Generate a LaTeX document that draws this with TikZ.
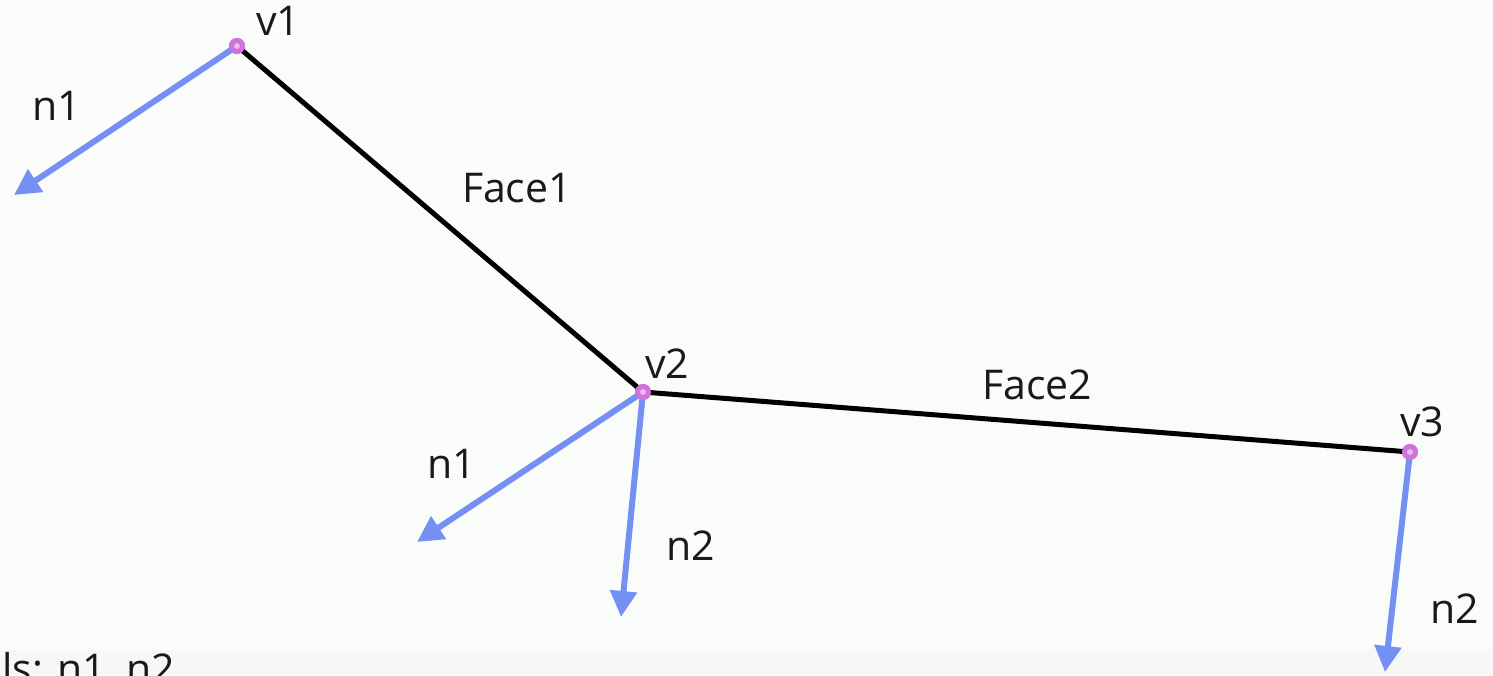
\documentclass[tikz,border=0pt]{standalone}
\usepackage{fontspec}
\setmainfont{Open Sans}
\usetikzlibrary{arrows.meta}
\definecolor{bg}{HTML}{FAFCFA}
\definecolor{nblue}{HTML}{7390F2}
\definecolor{vpink}{HTML}{CF72D9}
\definecolor{vlight}{HTML}{F0B8F0}
\tikzset{
  vert/.style={circle, fill=vpink, inner sep=0pt, minimum size=8pt},
  normal/.style={draw=nblue, line width=3pt, -{Triangle[length=13pt,width=13pt]}, shorten <=1pt},
  face/.style={draw=black, line width=2.5pt},
  lbl/.style={font=\fontsize{20.5}{24}\selectfont, inner sep=0pt, text=black!90}
}
\begin{document}
\begin{tikzpicture}[x=0.5pt,y=-0.5pt]
\clip (0,0) rectangle (1493,675);
\fill[bg] (0,0) rectangle (1493,675);
\fill[black!3] (0,650) rectangle (1493,675);
% vertices
\node[vert] (v1) at (237,46) {};
\node[vert] (v2) at (643,392) {};
\node[vert] (v3) at (1410,452) {};
% faces
\draw[face] (v1.center) -- (v2.center) -- (v3.center);
% normal tips
\coordinate (a1) at (14,195);
\coordinate (a2) at (417,542);
\coordinate (a3) at (621,617);
\coordinate (a4) at (1385,672);
\draw[normal] (v1.center) -- (a1);
\draw[normal] (v2.center) -- (a2);
\draw[normal] (v2.center) -- (a3);
\draw[normal] (v3.center) -- (a4);
% vertex markers on top
\foreach \v in {v1,v2,v3}{
  \node[vert] at (\v) {};
  \fill[vlight] (\v) circle (1.5pt);
}
% labels
\node[lbl] (l1) at (278,21) {v1};
\node[lbl] (l2) at (57,106) {n1};
\node[lbl] (l3) at (517,188) {Face1};
\node[lbl] (l4) at (667,364) {v2};
\node[lbl] (l5) at (1037,385) {Face2};
\node[lbl] (l6) at (1422,422) {v3};
\node[lbl] (l7) at (452,464) {n1};
\node[lbl] (l8) at (691,546) {n2};
\node[lbl] (l9) at (1455,609) {n2};
\node[lbl, anchor=base west] (l10) at (2,683) {ls: n1, n2};
\end{tikzpicture}
\end{document}
